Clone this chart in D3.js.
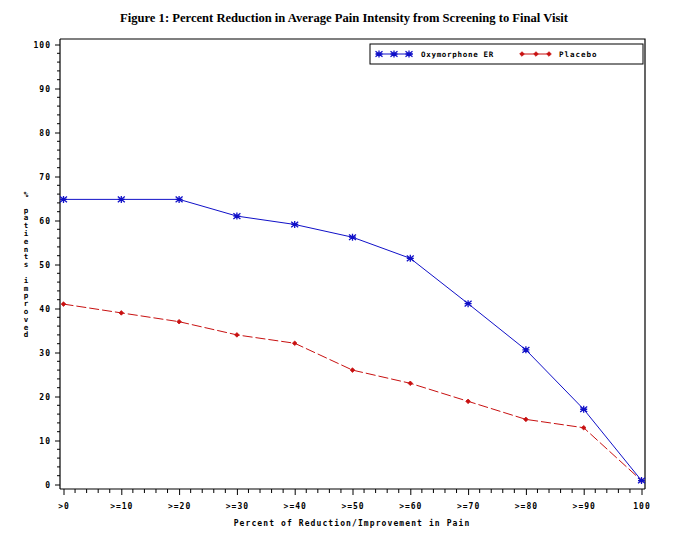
<!DOCTYPE html>
<html><head><meta charset="utf-8">
<script src="https://cdn.jsdelivr.net/npm/d3@7"></script>
<style>body{margin:0;background:#fff}</style>
</head><body>
<svg id="c" width="689" height="541"></svg>
<script>
const categories = [">0", ">=10", ">=20", ">=30", ">=40", ">=50", ">=60", ">=70", ">=80", ">=90", "100"];
const oxymorphone = [64.8, 64.8, 64.8, 61.0, 59.1, 56.2, 51.4, 41.1, 30.6, 17.1, 0.9];
const placebo = [41.0, 39.0, 37.0, 34.0, 32.1, 26.0, 23.0, 18.9, 14.8, 12.9, 0.9];
const yTicks = [0, 10, 20, 30, 40, 50, 60, 70, 80, 90, 100];
const seriesNames = ["Oxymorphone ER", "Placebo"];
const title = "Figure 1: Percent Reduction in Average Pain Intensity from Screening to Final Visit";
const xTitle = "Percent of Reduction/Improvement in Pain";
const yTitle = "% patients improved";

const blue = "#1010c8", red = "#c81010";
const tickFont = "'DejaVu Sans Mono', monospace";
const svg = d3.select("#c");

const L = 60, R = 645, T = 39, B = 489;
const x = d3.scalePoint().domain(categories).range([63.5, 641.5]);
const y = d3.scaleLinear().domain([0, 100]).range([484.5, 44.5]);

// title
svg.append("text").attr("x", 344).attr("y", 22).attr("text-anchor", "middle")
  .attr("font-family", "'Liberation Serif', 'Times New Roman', serif")
  .attr("font-weight", "bold").attr("font-size", 12.6).text(title);

// frame
svg.append("path").attr("d", `M${L},${T}H${R}V${B}`).attr("fill", "none").attr("stroke", "#000").attr("stroke-width", 1.2);

// y axis
const yAxis = d3.axisLeft(y).tickValues(yTicks).tickSize(5).tickPadding(4).tickFormat(d3.format("d"));
const gy = svg.append("g").attr("transform", `translate(${L},0)`).call(yAxis);
gy.select(".domain").attr("d", `M0,${T}V${B}`).attr("stroke-width", 1.2);
gy.selectAll("text").attr("font-family", tickFont).attr("font-size", 8).attr("font-weight", "bold").attr("letter-spacing", 1);
const yMinor = d3.range(0, 100, 2).filter(v => v % 10 !== 0);
gy.selectAll(".minor").data(yMinor).enter().append("line").attr("class", "minor")
  .attr("x1", -3).attr("x2", 0).attr("y1", d => y(d)).attr("y2", d => y(d)).attr("stroke", "#000");

// x axis
const xAxis = d3.axisBottom(x).tickSize(6).tickPadding(8);
const gx = svg.append("g").attr("transform", `translate(0,${B})`).call(xAxis);
gx.select(".domain").attr("d", `M${L},0H${R}`).attr("stroke-width", 1.2);
gx.selectAll("text").attr("font-family", tickFont).attr("font-size", 8).attr("font-weight", "bold").attr("letter-spacing", 1);
const step = x.step();
const xMinor = [];
categories.slice(0, -1).forEach(c => { for (let k = 1; k < 5; k++) xMinor.push(x(c) + step * k / 5); });
gx.selectAll(".minor").data(xMinor).enter().append("line").attr("class", "minor")
  .attr("x1", d => d).attr("x2", d => d).attr("y1", 0).attr("y2", 4).attr("stroke", "#000");

// axis titles
svg.append("text").attr("x", 352).attr("y", 526).attr("text-anchor", "middle")
  .attr("font-family", tickFont).attr("font-size", 8).attr("font-weight", "bold").attr("letter-spacing", 1.1).text(xTitle);
const chars = yTitle.split("");
const yt = svg.append("text").attr("font-family", tickFont).attr("font-size", 7.5).attr("font-weight", "bold").attr("text-anchor", "middle");
chars.forEach((ch, i) => {
  yt.append("tspan").attr("x", 26).attr("y", 197 + i * 7.8).text(ch === " " ? "\u00a0" : ch);
});

// lines
const line = d3.line().x((d, i) => x(categories[i])).y(d => y(d));
svg.append("path").datum(placebo).attr("d", line).attr("fill", "none").attr("stroke", red).attr("stroke-width", 1).attr("stroke-dasharray", "10,3");
svg.append("path").datum(oxymorphone).attr("d", line).attr("fill", "none").attr("stroke", blue).attr("stroke-width", 1);

function star(g, cx, cy, col) {
  const s = 3.5;
  g.append("path").attr("d", `M${cx - s},${cy}H${cx + s}M${cx},${cy - s}V${cy + s}M${cx - s},${cy - s * 0.8}L${cx + s},${cy + s * 0.8}M${cx - s},${cy + s * 0.8}L${cx + s},${cy - s * 0.8}`)
    .attr("stroke", col).attr("stroke-width", 1.3).attr("fill", "none");
}
function diamond(g, cx, cy, col) {
  const s = 2.3;
  g.append("path").attr("d", `M${cx},${cy - s}L${cx + s},${cy}L${cx},${cy + s}L${cx - s},${cy}Z`).attr("fill", col).attr("stroke", col).attr("stroke-width", 0.8);
}
const mk = svg.append("g");
placebo.forEach((v, i) => diamond(mk, x(categories[i]), y(v), red));
oxymorphone.forEach((v, i) => star(mk, x(categories[i]), y(v), blue));

// legend
const lg = svg.append("g");
lg.append("rect").attr("x", 370).attr("y", 44).attr("width", 273).attr("height", 20).attr("fill", "#fff").attr("stroke", "#000").attr("stroke-width", 1);
lg.append("line").attr("x1", 376).attr("x2", 413).attr("y1", 54).attr("y2", 54).attr("stroke", blue);
[379, 394, 409].forEach(px => star(lg, px, 54, blue));
lg.append("text").attr("x", 421).attr("y", 57).attr("font-family", tickFont).attr("font-size", 7.5).attr("font-weight", "bold").attr("letter-spacing", 0.7).text(seriesNames[0]);
lg.append("line").attr("x1", 520).attr("x2", 550).attr("y1", 54).attr("y2", 54).attr("stroke", red);
[522, 536, 549].forEach(px => diamond(lg, px, 54, red));
lg.append("text").attr("x", 559).attr("y", 57).attr("font-family", tickFont).attr("font-size", 7.5).attr("font-weight", "bold").attr("letter-spacing", 1).text(seriesNames[1]);
</script>
</body></html>
